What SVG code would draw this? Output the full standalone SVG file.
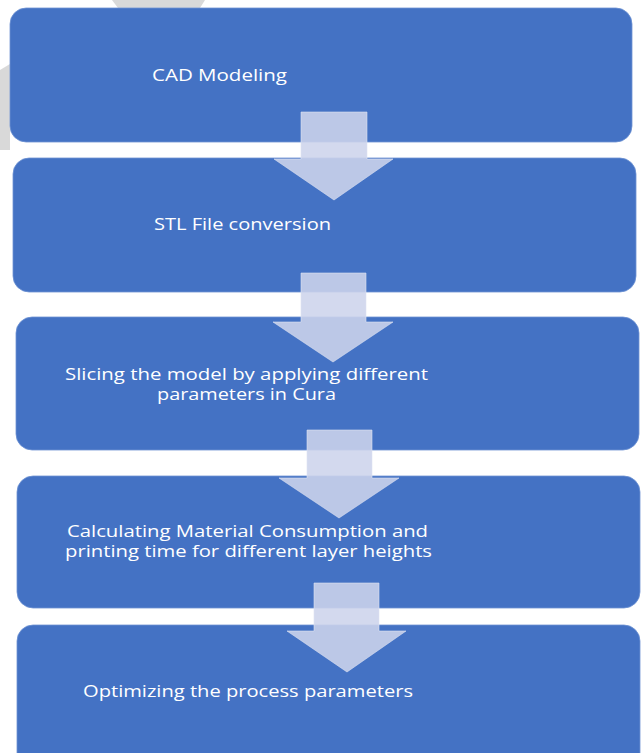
<svg xmlns="http://www.w3.org/2000/svg" width="644" height="753" viewBox="0 0 644 753">
<style>
.box{fill:#4472c4;stroke:#6f93d3;stroke-width:0.8}
.lbl{fill:#ffffff;font-family:"Open Sans","DejaVu Sans",sans-serif;font-size:16px}
.arr{fill:#cdd4ec;fill-opacity:0.88;stroke:#dde2f2;stroke-width:0.6}
.wm{fill:#d9d9d9}
</style>
<rect width="644" height="753" fill="#ffffff"/>
<g id="watermark">
<polygon class="wm" points="112,0 205,0 200,8 118,8"/>
<polygon class="wm" points="0,70 10,64 10,150 0,150"/>
</g>
<g id="node-cad">
<rect class="box" x="10" y="8" width="622" height="134" rx="16"/>
<text class="lbl" x="152" y="81" textLength="135" lengthAdjust="spacingAndGlyphs">CAD Modeling</text>
</g>
<g id="node-stl">
<rect class="box" x="13" y="158" width="623" height="134" rx="16"/>
<text class="lbl" x="154" y="230" textLength="177" lengthAdjust="spacingAndGlyphs">STL File conversion</text>
</g>
<g id="node-slicing">
<rect class="box" x="16" y="317" width="623" height="133" rx="16"/>
<text class="lbl" x="65" y="380" textLength="363" lengthAdjust="spacingAndGlyphs">Slicing the model by applying different</text>
<text class="lbl" x="157" y="400" textLength="179" lengthAdjust="spacingAndGlyphs">parameters in Cura</text>
</g>
<g id="node-calc">
<rect class="box" x="17" y="476" width="623" height="132" rx="16"/>
<text class="lbl" x="67" y="537" textLength="361" lengthAdjust="spacingAndGlyphs">Calculating Material Consumption and</text>
<text class="lbl" x="65" y="557" textLength="367" lengthAdjust="spacingAndGlyphs">printing time for different layer heights</text>
</g>
<g id="node-optimize">
<rect class="box" x="17" y="625" width="623" height="145" rx="16"/>
<text class="lbl" x="83" y="697" textLength="330" lengthAdjust="spacingAndGlyphs">Optimizing the process parameters</text>
</g>
<g id="connectors">
<polygon class="arr" points="301,112 367,112 367,159 393,159 334,200 274,159 301,159"/>
<polygon class="arr" points="301,273 366,273 366,322 393,322 333,362 273,322 301,322"/>
<polygon class="arr" points="307,430 372,430 372,478 399,478 339,518 279,478 307,478"/>
<polygon class="arr" points="314,583 379,583 379,631 406,631 347,672 287,631 314,631"/>
</g>
</svg>
